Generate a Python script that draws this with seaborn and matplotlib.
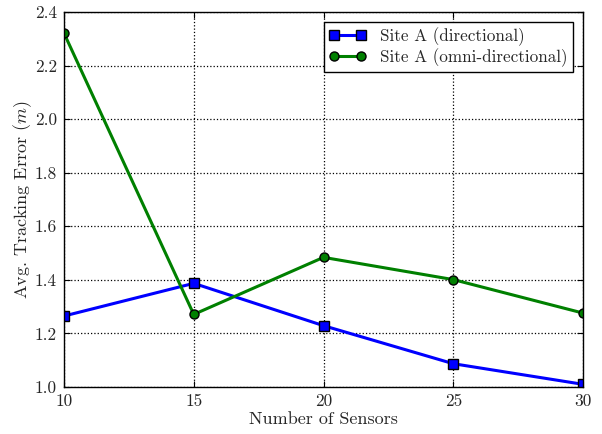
import matplotlib
matplotlib.use("Agg")
import matplotlib.pyplot as plt
import seaborn as sns
import pandas as pd

sensors = [10, 15, 20, 25, 30]
directional = [1.265, 1.387, 1.229, 1.087, 1.010]
omni = [2.321, 1.271, 1.484, 1.401, 1.276]
labels = ["Site A (directional)", "Site A (omni-directional)"]
xticks = [10, 15, 20, 25, 30]
yticks = [1.0, 1.2, 1.4, 1.6, 1.8, 2.0, 2.2, 2.4]

sns.set_style("ticks")
plt.rcParams["font.family"] = ["cmr10", "DejaVu Serif"]
plt.rcParams["mathtext.fontset"] = "cm"
plt.rcParams["axes.formatter.use_mathtext"] = True
plt.rcParams["axes.unicode_minus"] = False

df = pd.DataFrame({
    "x": sensors + sensors,
    "y": directional + omni,
    "series": [labels[0]] * len(sensors) + [labels[1]] * len(sensors),
})

fig = plt.figure(figsize=(6.02, 4.34), dpi=100)
ax = fig.add_axes([64 / 602, 47 / 434, 519 / 602, 375 / 434])

sns.lineplot(data=df, x="x", y="y", hue="series", style="series",
             palette={labels[0]: "#0000ff", labels[1]: "#008000"},
             markers={labels[0]: "s", labels[1]: "o"}, dashes=False,
             linewidth=2.2, markersize=6.5, markeredgecolor="black",
             markeredgewidth=1.0, ax=ax, legend=True)

ax.set_xlim(10, 30)
ax.set_ylim(1.0, 2.4)
ax.set_xticks(xticks)
ax.set_yticks(yticks)
ax.set_xticklabels([str(t) for t in xticks])
ax.set_yticklabels([f"{t:.1f}" for t in yticks])
ax.tick_params(direction="in", top=True, right=True, labelsize=12.5,
               length=4, width=0.8, pad=5, color="black")
ax.grid(True, linestyle=":", color="black", linewidth=0.9)
for s in ax.spines.values():
    s.set_color("black")
    s.set_linewidth(1.0)
ax.set_xlabel("Number of Sensors", fontsize=13, labelpad=2)
ax.set_ylabel("Avg. Tracking Error ($m$)", fontsize=13, labelpad=0.5)

handles, lbls = ax.get_legend_handles_labels()
leg = ax.legend(handles, lbls, loc="upper right", numpoints=2, fontsize=12.3,
                frameon=True, fancybox=False, framealpha=1, edgecolor="black",
                borderpad=0.3, handlelength=2.2, labelspacing=0.1,
                handletextpad=0.8, borderaxespad=0.6)
leg.get_frame().set_linewidth(1.0)

fig.savefig("out.png", dpi=100)
